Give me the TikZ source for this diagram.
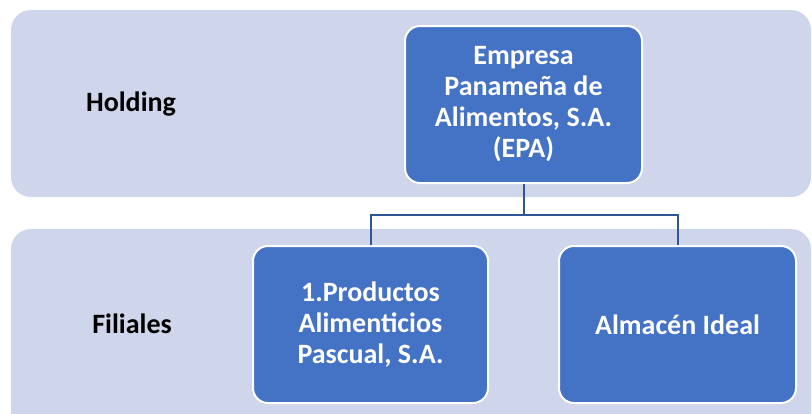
\documentclass[tikz,border=0pt]{standalone}
\usepackage{fontspec}
\usetikzlibrary{calc}
\setmainfont{Carlito}
\definecolor{bandfill}{HTML}{CFD5EA}
\definecolor{boxfill}{HTML}{4472C4}
\definecolor{linkcol}{HTML}{2F5597}
\begin{document}
\begin{tikzpicture}[x=1pt,y=-1pt,
  band/.style={fill=bandfill,draw=none,rounded corners=20pt},
  orgbox/.style={rectangle,rounded corners=15pt,fill=boxfill,draw=white,line width=2pt,
    text=white,align=center,font=\bfseries\fontsize{28}{31}\selectfont,inner sep=0pt},
  tier/.style={text=black,font=\bfseries\fontsize{28}{31}\selectfont,inner sep=0pt},
  link/.style={draw=linkcol,line width=2pt}]
  \useasboundingbox (0,0) rectangle (812,413);
  \clip (0,0) rectangle (812,413);
  % background bands
  \fill[band] (11,10) rectangle (811,197);
  \fill[band] (11,229) rectangle (811,440);
  % tier labels
  \node[tier] (holding) at (131,104) {Holding};
  \node[tier] (filiales) at (132,324) {Filiales};
  % boxes
  \node[orgbox,minimum width=237pt,minimum height=157pt] (epa) at (523.5,104.5)
    {Empresa\\Panameña de\\Alimentos, S.A.\\(EPA)};
  \node[orgbox,minimum width=235pt,minimum height=157pt] (pap) at (370.5,324.5)
    {1.Productos\\Alimenticios\\Pascual, S.A.};
  \node[orgbox,minimum width=237pt,minimum height=157pt] (ideal) at (677.5,324.5)
    {Almacén Ideal};
  % connectors
  \coordinate (bus) at ($(epa.south)+(0,31)$);
  \draw[link] (epa.south) -- (bus) -| (pap.north);
  \draw[link] (bus) -| (ideal.north);
\end{tikzpicture}
\end{document}
